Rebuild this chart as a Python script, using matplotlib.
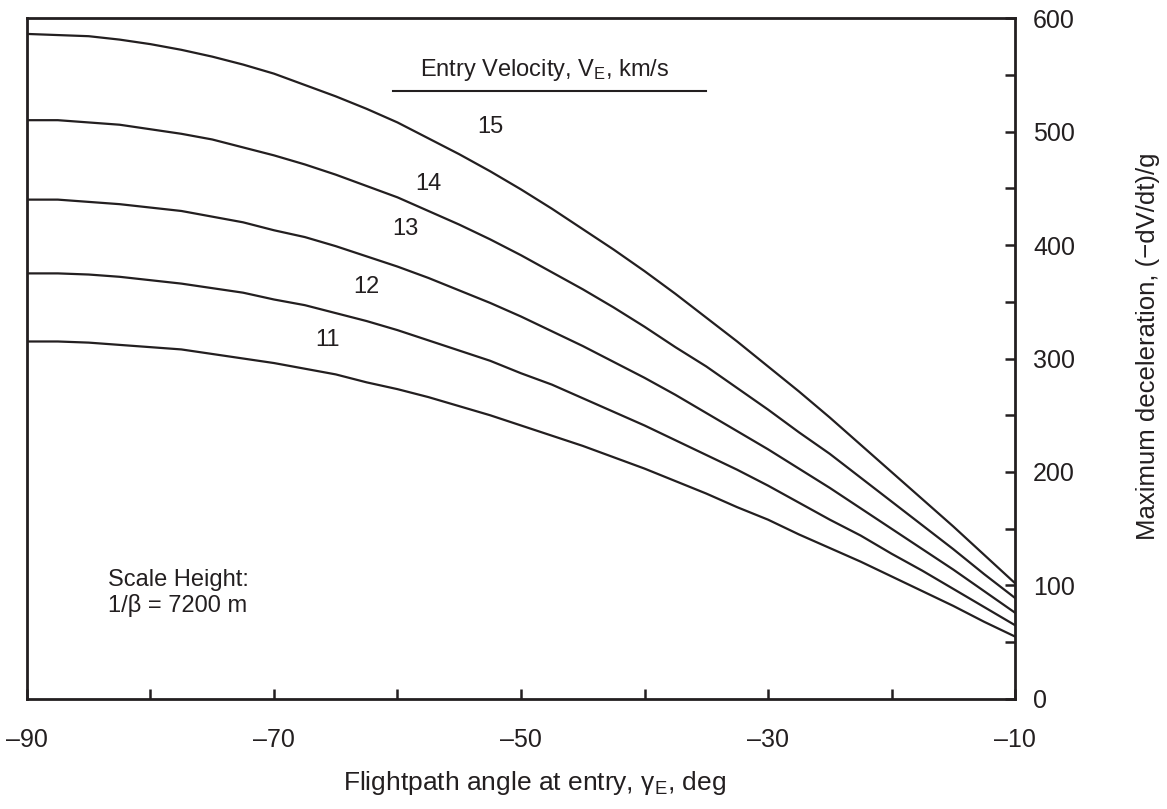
import matplotlib.pyplot as plt
from matplotlib.ticker import MultipleLocator

plt.rcParams['font.family'] = ['Liberation Sans', 'DejaVu Sans']
plt.rcParams['mathtext.fontset'] = 'custom'
plt.rcParams['mathtext.rm'] = 'Liberation Sans'
plt.rcParams['mathtext.it'] = 'Liberation Sans'

# flightpath angle at entry (deg)
gamma = [-90, -87.5, -85, -82.5, -80, -77.5, -75, -72.5, -70, -67.5, -65, -62.5,
         -60, -57.5, -55, -52.5, -50, -47.5, -45, -42.5, -40, -37.5, -35, -32.5,
         -30, -27.5, -25, -22.5, -20, -17.5, -15, -12.5, -10]

# maximum deceleration, one list per entry velocity
decel_11 = [315, 315, 314, 312, 310, 308, 304, 300, 296, 291, 286, 279, 273, 266, 258, 250,
            241, 232, 223, 213, 203, 192, 181, 169, 158, 145, 133, 121, 108, 95, 82, 68, 55]
decel_12 = [375, 375, 374, 372, 369, 366, 362, 358, 352, 347, 340, 333, 325, 316, 307, 298,
            287, 277, 265, 253, 241, 228, 215, 202, 188, 173, 158, 144, 128, 113, 97, 81, 65]
decel_13 = [440, 440, 438, 436, 433, 430, 425, 420, 413, 407, 399, 390, 381, 371, 360, 349,
            337, 324, 311, 297, 283, 268, 252, 236, 220, 203, 186, 168, 150, 132, 114, 95, 76]
decel_14 = [510, 510, 508, 506, 502, 498, 493, 486, 479, 471, 462, 452, 442, 430, 418, 405,
            391, 376, 361, 345, 328, 310, 293, 274, 255, 235, 216, 195, 174, 153, 132, 110, 89]
decel_15 = [586, 585, 584, 581, 577, 572, 566, 559, 551, 541, 531, 520, 508, 494, 480, 465,
            449, 432, 414, 396, 377, 357, 336, 315, 293, 271, 248, 224, 200, 176, 152, 127, 102]

curves = [decel_11, decel_12, decel_13, decel_14, decel_15]
curve_labels = ['11', '12', '13', '14', '15']
label_pos = [(-65.7, 316), (-62.5, 363), (-59.4, 414), (-57.5, 454), (-52.5, 504)]

ink = '#231f20'
fs = 17

fig = plt.figure(figsize=(11.67, 8.09), dpi=100)
ax = fig.add_axes([0.0231, 0.136, 0.8467, 0.8417])

for vals in curves:
    ax.plot(gamma, vals, color=ink, lw=1.6)

for lab, (x, y) in zip(curve_labels, label_pos):
    ax.text(x, y, lab, ha='center', va='center', fontsize=fs, color=ink)

ax.text(-48.1, 554, 'Entry Velocity, V$_\\mathrm{E}$, km/s', ha='center', va='center',
        fontsize=fs, color=ink)
ax.plot([-60.4, -35.0], [536, 536], color=ink, lw=1.5)

ax.text(-83.4, 105, 'Scale Height:', ha='left', va='center', fontsize=fs, color=ink)
ax.text(-83.4, 82, '1/β = 7200 m', ha='left', va='center', fontsize=fs, color=ink)

ax.set_xlim(-90, -10)
ax.set_ylim(0, 600)

ax.yaxis.tick_right()
ax.yaxis.set_label_position('right')
ax.set_xticks([-90, -70, -50, -30, -10])
ax.set_xticklabels(['\u201390', '\u201370', '\u201350', '\u201330', '\u201310'])
ax.xaxis.set_minor_locator(MultipleLocator(10))
ax.set_yticks(range(0, 601, 100))
ax.yaxis.set_minor_locator(MultipleLocator(50))

ax.tick_params(axis='both', which='both', direction='in', colors=ink,
               labelsize=18, width=1.8, length=7)
ax.tick_params(axis='x', which='both', pad=21)
ax.tick_params(axis='y', which='both', pad=13)

for s in ax.spines.values():
    s.set_linewidth(2.0)
    s.set_color(ink)

ax.set_xlabel('Flightpath angle at entry, γ$_\\mathrm{E}$, deg', fontsize=19,
              color=ink, va='center')
ax.xaxis.set_label_coords(0.514, -0.1233)
ax.set_ylabel('Maximum deceleration, (\u2212dV/dt)/g', fontsize=18.5, color=ink,
              va='center', rotation=90)
ax.yaxis.set_label_coords(1.1346, 0.518)

fig.savefig('out.png', dpi=100)
